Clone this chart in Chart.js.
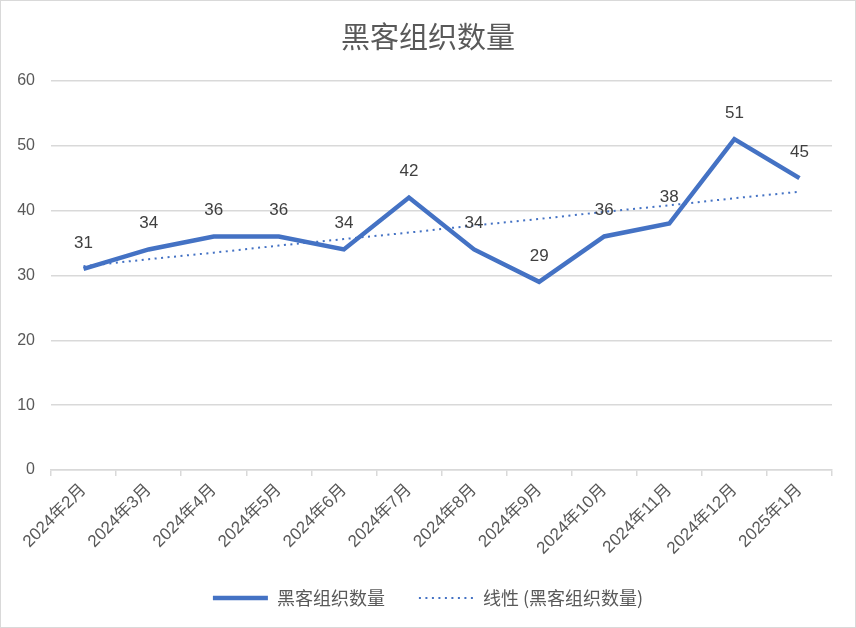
<!DOCTYPE html>
<html>
<head>
<meta charset="utf-8">
<script src="https://cdn.jsdelivr.net/npm/chart.js@4/dist/chart.umd.min.js"></script>
<style>
  html, body { margin: 0; padding: 0; background: #ffffff; }
  #wrap {
    width: 856px; height: 628px; box-sizing: border-box;
    border: 1px solid #d9d9d9; background: #ffffff;
  }
  #chart { display: block; }
</style>
</head>
<body>
<div id="wrap"><canvas id="chart" width="854" height="626"></canvas></div>
<script>
// Data
const months = ['2024年2月', '2024年3月', '2024年4月', '2024年5月', '2024年6月', '2024年7月',
  '2024年8月', '2024年9月', '2024年10月', '2024年11月', '2024年12月', '2025年1月'];
const groupCounts = [31, 34, 36, 36, 34, 42, 34, 29, 36, 38, 51, 45];
// Linear trendline as shown in the picture (Excel 线性 trend)
const trendValues = [31.4, 32.5, 33.5, 34.6, 35.6, 36.6, 37.7, 38.7, 39.8, 40.8, 41.9, 42.9];
const yTicks = [0, 10, 20, 30, 40, 50, 60];

const BLUE = '#4472c4';
const TEXT = '#595959';
const GRID = '#d9d9d9';
const FONT = '"Liberation Sans", "Noto Sans CJK SC", sans-serif';
const CJK_FONT = '"Noto Sans CJK SC", sans-serif';
const TREND_DASH = [2, 4.5];

// Draw value labels above the main series points
const valueLabels = {
  id: 'valueLabels',
  afterDatasetsDraw(chart) {
    const ctx = chart.ctx;
    const meta = chart.getDatasetMeta(0);
    ctx.save();
    ctx.font = '17px ' + FONT;
    ctx.fillStyle = '#404040';
    ctx.textAlign = 'center';
    ctx.textBaseline = 'middle';
    meta.data.forEach((pt, i) => {
      ctx.fillText(String(groupCounts[i]), pt.x, pt.y - 26);
    });
    ctx.restore();
  }
};

const ctx = document.getElementById('chart').getContext('2d');
new Chart(ctx, {
  type: 'line',
  data: {
    labels: months,
    datasets: [
      {
        label: '黑客组织数量',
        data: groupCounts,
        borderColor: BLUE,
        backgroundColor: BLUE,
        borderWidth: 4.5,
        pointRadius: 0,
        tension: 0,
        borderJoinStyle: 'miter',
        pointStyle: 'line'
      },
      {
        label: '线性 (黑客组织数量)',
        data: trendValues,
        borderColor: BLUE,
        backgroundColor: BLUE,
        borderWidth: 2,
        borderDash: TREND_DASH,
        pointRadius: 0,
        tension: 0,
        pointStyle: 'line'
      }
    ]
  },
  options: {
    responsive: false,
    animation: false,
    layout: { padding: { left: 0, right: 0, top: 6, bottom: 10 } },
    plugins: {
      title: {
        display: true,
        text: '黑客组织数量',
        color: TEXT,
        font: { family: CJK_FONT, size: 29, weight: 'normal' },
        padding: { top: 13, bottom: 26 }
      },
      legend: {
        position: 'bottom',
        labels: {
          usePointStyle: true,
          pointStyleWidth: 55,
          boxHeight: 16,
          color: TEXT,
          padding: 34,
          font: { family: CJK_FONT, size: 18 },
          generateLabels(chart) {
            const items = Chart.defaults.plugins.legend.labels.generateLabels(chart);
            items.forEach(item => {
              const ds = chart.data.datasets[item.datasetIndex];
              item.lineWidth = ds.borderWidth;
              item.lineDash = ds.borderDash || [];
              item.strokeStyle = ds.borderColor;
            });
            return items;
          }
        }
      },
      tooltip: { enabled: false }
    },
    scales: {
      x: {
        offset: true,
        afterFit(axis) {
          axis.paddingLeft = 0;
          axis.paddingRight = 23;
          axis.height = 85;
        },
        grid: {
          offset: true,
          display: true,
          drawOnChartArea: false,
          drawTicks: true,
          tickLength: 6,
          color: GRID,
          lineWidth: 1.5
        },
        border: { display: true, color: GRID, width: 1.5 },
        ticks: {
          color: TEXT,
          maxRotation: 45,
          minRotation: 45,
          autoSkip: false,
          padding: 4,
          font: { family: FONT, size: 17 }
        }
      },
      y: {
        min: 0,
        max: 60,
        afterBuildTicks(axis) {
          axis.ticks = yTicks.map(v => ({ value: v }));
        },
        afterFit(axis) {
          axis.width = 50;
        },
        grid: { color: GRID, lineWidth: 1.5, drawTicks: false },
        border: { display: false },
        ticks: {
          color: TEXT,
          padding: 16,
          font: { family: FONT, size: 16 }
        }
      }
    }
  },
  plugins: [valueLabels]
});
</script>
</body>
</html>
